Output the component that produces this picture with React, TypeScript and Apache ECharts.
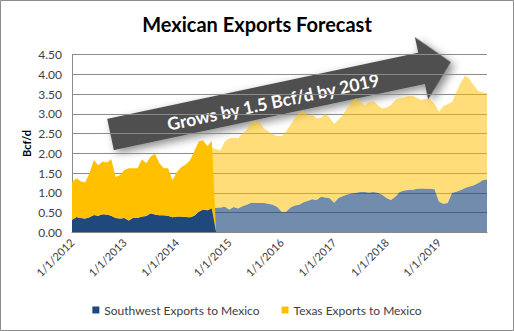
import React, { useEffect, useRef } from "react";
import * as echarts from "echarts";

const startYear = 2012;
const endYear = 2019;
const yTicks = [0, 0.5, 1, 1.5, 2, 2.5, 3, 3.5, 4, 4.5];

// Historical (Jan 2012 .. Oct 2014; last point is the drop to zero)
const swHistorical = [0.31,0.39,0.36,0.35,0.38,0.44,0.42,0.46,0.45,0.42,0.36,0.35,0.36,0.30,0.37,0.36,0.40,0.41,0.48,0.45,0.43,0.43,0.42,0.38,0.40,0.40,0.39,0.38,0.42,0.52,0.58,0.56,0.61,0];
const txHistorical = [0.96,0.98,0.93,0.91,1.12,1.39,1.28,1.33,1.32,1.43,1.04,1.10,1.22,1.32,1.25,1.26,1.45,1.34,1.44,1.53,1.32,1.19,1.20,0.94,1.13,1.25,1.33,1.44,1.63,1.78,1.75,1.62,1.71,0];

// Forecast (Sep 2014 .. Dec 2019)
const forecastStart = 32;
const swForecast = [0.61,0.62,0.63,0.65,0.58,0.64,0.60,0.66,0.70,0.75,0.75,0.74,0.74,0.72,0.70,0.64,0.52,0.52,0.63,0.68,0.70,0.76,0.80,0.84,0.82,0.90,0.88,0.86,0.75,0.87,0.92,0.96,0.98,1.00,1.02,1.02,1.01,1.02,1.00,0.95,0.87,0.82,0.90,1.02,1.06,1.07,1.08,1.10,1.11,1.10,1.10,1.09,0.78,0.72,0.74,1.00,1.03,1.07,1.12,1.16,1.19,1.25,1.32,1.34];
const txForecast = [1.54,1.48,1.45,1.65,1.80,1.76,1.78,1.84,1.90,2.03,2.07,2.04,1.88,1.83,1.78,1.80,1.92,2.03,2.09,2.22,2.32,2.32,2.15,2.14,2.06,2.00,2.12,2.04,2.00,1.98,2.05,2.19,2.32,2.40,2.28,2.20,2.29,2.30,2.22,2.19,2.29,2.40,2.45,2.38,2.36,2.38,2.37,2.30,2.24,2.28,2.28,2.16,2.27,2.48,2.50,2.30,2.52,2.71,2.85,2.72,2.53,2.33,2.22,2.18];

const seriesNames = ["Southwest Exports to Mexico", "Texas Exports to Mexico"];

const months: string[] = [];
for (let y = startYear; y <= endYear; y++) {
  for (let m = 1; m <= 12; m++) months.push(`${m}/1/${y}`);
}

const padEnd = (arr: number[]) => months.map((_, i) => (i < arr.length ? arr[i] : null));
const padStart = (arr: number[], s: number) =>
  months.map((_, i) => (i >= s && i - s < arr.length ? arr[i - s] : null));

const FONT = "Lato, 'Liberation Sans', sans-serif";

export default function App() {
  const ref = useRef<HTMLDivElement>(null);
  useEffect(() => {
    if (!ref.current) return;
    const chart = echarts.init(ref.current, null, { renderer: "svg" });
    const deg = (12 * Math.PI) / 180;
    chart.setOption({
      animation: false,
      textStyle: { fontFamily: FONT },
      title: {
        text: "Mexican Exports Forecast",
        left: "center",
        top: 9,
        textStyle: { fontFamily: FONT, fontSize: 20, fontWeight: "bold", color: "#000" },
      },
      grid: { left: 72, right: 27, top: 54.6, bottom: 98.7, containLabel: false },
      legend: {
        data: seriesNames,
        top: 299,
        left: "center",
        icon: "rect",
        itemWidth: 7,
        itemHeight: 7,
        itemGap: 22,
        itemStyle: { borderWidth: 0 },
        textStyle: { fontFamily: FONT, fontSize: 12, color: "#404040" },
      },
      xAxis: {
        type: "category",
        data: months,
        boundaryGap: false,
        axisLine: { lineStyle: { color: "#8c8c8c" } },
        axisTick: { show: false },
        axisLabel: {
          interval: (i: number) => i % 12 === 0,
          rotate: 45,
          margin: 8,
          fontSize: 11,
          color: "#404040",
          fontFamily: FONT,
        },
        splitLine: { show: false },
      },
      yAxis: {
        type: "value",
        min: 0,
        max: 4.5,
        interval: 0.5,
        name: "Bcf/d",
        nameLocation: "middle",
        nameGap: 40,
        nameMoveOverlap: false,
        nameTextStyle: { fontFamily: FONT, fontSize: 11, fontWeight: "bold", color: "#000" },
        axisLine: { show: true, lineStyle: { color: "#8c8c8c" } },
        axisTick: { show: false },
        axisLabel: {
          formatter: (v: number) => (yTicks.includes(v) ? v.toFixed(2) : ""),
          fontSize: 12,
          margin: 10,
          color: "#404040",
          fontFamily: FONT,
        },
        splitLine: { lineStyle: { color: "#8c8c8c", width: 1 } },
      },
      series: [
        {
          name: "Southwest Forecast",
          type: "line",
          stack: "forecast",
          data: padStart(swForecast, forecastStart),
          symbol: "none",
          lineStyle: { width: 0 },
          itemStyle: { color: "rgba(31,73,125,0.63)" },
          areaStyle: { color: "rgba(31,73,125,0.63)", opacity: 1 },
        },
        {
          name: "Texas Forecast",
          type: "line",
          stack: "forecast",
          data: padStart(txForecast, forecastStart),
          symbol: "none",
          lineStyle: { width: 0 },
          itemStyle: { color: "rgba(255,192,0,0.52)" },
          areaStyle: { color: "rgba(255,192,0,0.52)", opacity: 1 },
        },
        {
          name: seriesNames[0],
          type: "line",
          stack: "hist",
          data: padEnd(swHistorical),
          symbol: "none",
          lineStyle: { width: 0 },
          itemStyle: { color: "#1F497D" },
          areaStyle: { color: "#1F497D", opacity: 1 },
        },
        {
          name: seriesNames[1],
          type: "line",
          stack: "hist",
          data: padEnd(txHistorical),
          symbol: "none",
          lineStyle: { width: 0 },
          itemStyle: { color: "#FFC000" },
          areaStyle: { color: "#FFC000", opacity: 1 },
        },
      ],
      graphic: [
        {
          type: "rect",
          shape: { x: 0.5, y: 0.5, width: 513, height: 330 },
          style: { fill: "none", stroke: "#8c8c8c", lineWidth: 1 },
          z: 100,
        },
        {
          type: "group",
          x: 110.5,
          y: 134.5,
          rotation: deg,
          z: 100,
          children: [
            {
              type: "polygon",
              shape: {
                points: [
                  [0, -16], [318, -16], [318, -32], [348, 0], [318, 32], [318, 16], [0, 16],
                ],
              },
              style: {
                fill: "#4f4f4f",
                shadowBlur: 8,
                shadowColor: "rgba(0,0,0,0.45)",
                shadowOffsetX: 3,
                shadowOffsetY: 4,
              },
            },
            {
              type: "text",
              x: 166,
              y: 2,
              style: {
                text: "Grows by 1.5 Bcf/d by 2019",
                fill: "#ffffff",
                font: `bold 17.5px ${FONT}`,
                textAlign: "center",
                textVerticalAlign: "middle",
              },
            },
          ],
        },
      ],
    });
    return () => chart.dispose();
  }, []);
  return (
    <div
      ref={ref}
      style={{ position: "fixed", left: 0, top: 0, width: 514, height: 331, background: "#fff" }}
    />
  );
}
